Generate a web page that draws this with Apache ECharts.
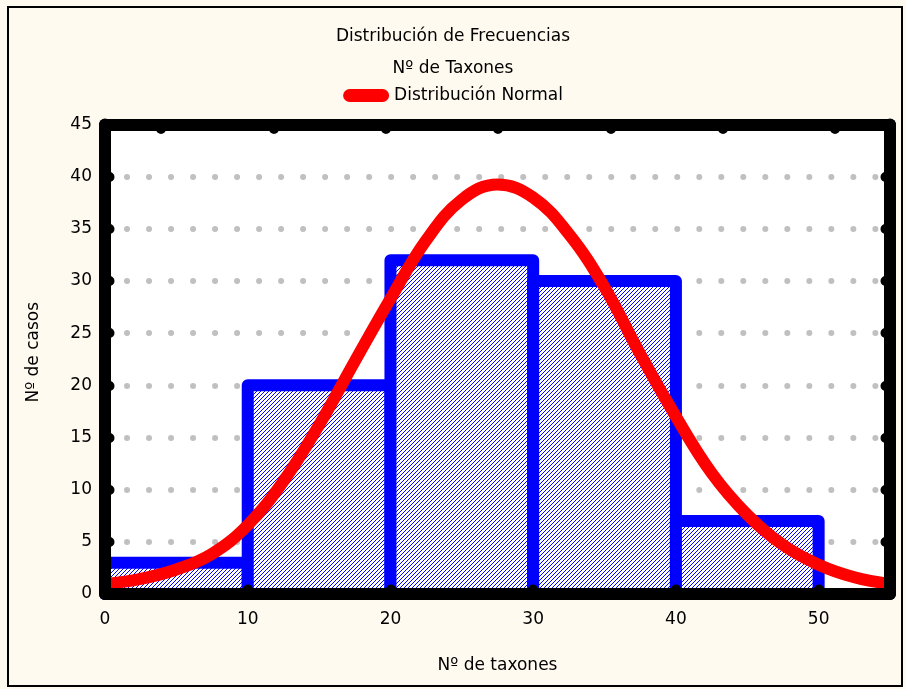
<!DOCTYPE html>
<html>
<head>
<meta charset="utf-8">
<script src="https://cdn.jsdelivr.net/npm/echarts@6/dist/echarts.min.js"></script>
<style>
  html, body { margin: 0; padding: 0; background: #FFFAF0; }
  #chart { width: 906px; height: 689px; }
</style>
</head>
<body>
<div id="chart"></div>
<script>
// ---- data ----
var binStarts = [0, 10, 20, 30, 40];
var binEnds   = [10, 20, 30, 40, 50];
var counts    = [3, 20, 32, 30, 7];

var curveX = [0, 2.5, 5, 7.5, 10, 12.5, 15, 17.5, 20, 22.5, 25, 27.5, 30, 32.5, 35, 37.5, 40, 42.5, 45, 47.5, 50, 52.5, 55];
var curveY = [0.95, 1.45, 2.35, 3.85, 6.6, 10.8, 16.2, 22.3, 28.3, 33.9, 37.8, 39.25, 38.0, 34.5, 29.4, 23.0, 17.0, 11.6, 7.6, 4.7, 2.8, 1.6, 0.95];

var xTicks = [0, 10, 20, 30, 40, 50];
var topTicks = [3.94, 11.81, 19.68, 27.55, 35.41, 43.28, 51.15];

var titleText = 'Distribución de Frecuencias';
var subTitleText = 'Nº de Taxones';
var seriesName = 'Distribución Normal';
var xName = 'Nº de taxones';
var yName = 'Nº de casos';

var barData = binStarts.map(function (s, i) { return [s, binEnds[i], counts[i]]; });
var lineData = curveX.map(function (x, i) { return [x, curveY[i]]; });

var FONT = "'DejaVu Sans', 'Liberation Sans', Arial, sans-serif";
var FS = 17;
var black = '#000000';

function hatchPath(x0, x1, yT, yB, step) {
  var d = '';
  var cStart = Math.floor((x0 + yT) / step) * step;
  var cEnd = x1 + yB;
  for (var c = cStart; c <= cEnd; c += step) {
    var xa = Math.max(x0, c - yB);
    var xb = Math.min(x1, c - yT);
    if (xb <= xa) continue;
    d += 'M' + xa.toFixed(2) + ' ' + (c - xa).toFixed(2) + 'L' + xb.toFixed(2) + ' ' + (c - xb).toFixed(2);
  }
  return d;
}

var chart = echarts.init(document.getElementById('chart'), null, { renderer: 'canvas' });

function frameAxis(extra) {
  var base = {
    type: 'value', min: 0, z: 10,
    axisLine: { show: true, onZero: false, lineStyle: { color: black, width: 12, cap: 'round' } },
    axisTick: { show: true, inside: true, length: 4.5, lineStyle: { color: black, width: 10, cap: 'round' } },
    axisLabel: { show: false },
    splitLine: { show: false }
  };
  return Object.assign(base, extra);
}

chart.setOption({
  backgroundColor: '#FFFAF0',
  animation: false,
  textStyle: { fontFamily: FONT },
  title: {
    left: 'center', top: 23,
    text: titleText, subtext: subTitleText, itemGap: 15,
    textStyle: { fontFamily: FONT, fontSize: FS, fontWeight: 'normal', color: black },
    subtextStyle: { fontFamily: FONT, fontSize: FS, color: black }
  },
  legend: {
    left: 'center', top: 82,
    itemWidth: 46, itemHeight: 13,
    icon: 'path://M6.5,0 H39.5 A6.5,6.5 0 0 1 39.5,13 H6.5 A6.5,6.5 0 0 1 6.5,0 Z',
    textStyle: { fontFamily: FONT, fontSize: FS, color: black },
    data: [seriesName]
  },
  graphic: [{
    type: 'rect', z: 100, silent: true,
    shape: { x: 8, y: 7, width: 894, height: 679 },
    style: { fill: 'none', stroke: black, lineWidth: 2 }
  }],
  grid: {
    left: 105, right: 16, top: 124.5, bottom: 95,
    show: true, backgroundColor: '#ffffff', borderWidth: 0
  },
  xAxis: [
    frameAxis({
      position: 'bottom', max: 55, interval: 10,
      axisLabel: { show: true, margin: 17, fontFamily: FONT, fontSize: FS, color: black, customValues: xTicks },
      axisTick: { show: true, inside: true, length: 4.5, customValues: xTicks,
        lineStyle: { color: black, width: 10, cap: 'round' } },
      name: xName, nameLocation: 'middle', nameGap: 63,
      nameTextStyle: { fontFamily: FONT, fontSize: FS, color: black }
    }),
    frameAxis({
      position: 'top', max: 55,
      axisTick: { show: true, inside: true, length: 4.5, customValues: topTicks,
        lineStyle: { color: black, width: 10, cap: 'round' } }
    })
  ],
  yAxis: [
    frameAxis({
      position: 'left', max: 45, interval: 5,
      axisLabel: { show: true, margin: 13, fontFamily: FONT, fontSize: FS, color: black },
      name: yName, nameLocation: 'middle', nameGap: 63,
      nameTextStyle: { fontFamily: FONT, fontSize: FS, color: black, padding: [0, 0, 0, 14] }
    }),
    frameAxis({
      position: 'right', max: 45, interval: 5
    }),
    {
      type: 'value', min: 0, max: 45, interval: 5, z: 0,
      axisLine: { show: false }, axisTick: { show: false }, axisLabel: { show: false },
      splitLine: { show: true, lineStyle: { color: '#C0C0C0', width: 6, type: [0.01, 22], cap: 'round' } }
    }
  ],
  series: [
    {
      type: 'custom',
      xAxisIndex: 0, yAxisIndex: 0,
      z: 2,
      clip: false,
      data: barData,
      renderItem: function (params, api) {
        var p0 = api.coord([api.value(0), 0]);
        var p1 = api.coord([api.value(1), api.value(2)]);
        var x0 = p0[0], x1 = p1[0], yT = p1[1], yB = p0[1];
        return {
          type: 'group',
          children: [
            { type: 'rect', shape: { x: x0, y: yT, width: x1 - x0, height: yB - yT },
              style: { fill: '#ffffff', stroke: null } },
            { type: 'path', shape: { pathData: hatchPath(x0, x1, yT, yB, 4) },
              style: { fill: null, stroke: '#0000FF', lineWidth: 1 } },
            { type: 'rect', shape: { x: x0, y: yT, width: x1 - x0, height: yB - yT },
              style: { fill: null, stroke: '#0000FF', lineWidth: 12, lineJoin: 'round' } }
          ]
        };
      }
    },
    {
      type: 'line',
      name: seriesName,
      xAxisIndex: 0, yAxisIndex: 0,
      z: 3,
      data: lineData,
      smooth: 0.4,
      showSymbol: false,
      symbol: 'none',
      itemStyle: { color: '#FF0000' },
      lineStyle: { color: '#FF0000', width: 12, cap: 'round', join: 'round' }
    }
  ]
});
</script>
</body>
</html>
